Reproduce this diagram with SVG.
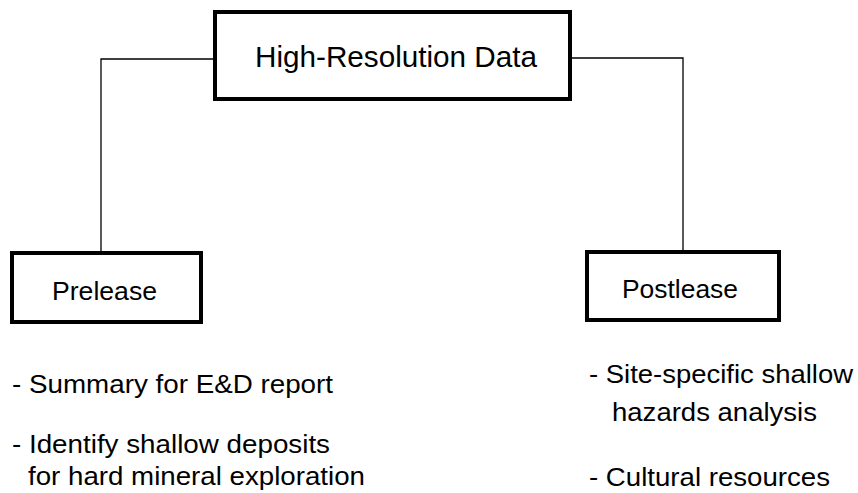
<svg xmlns="http://www.w3.org/2000/svg" width="858" height="493" viewBox="0 0 858 493">
<style>
.box{fill:#fff;stroke:#000;stroke-width:4}
.conn{fill:none;stroke:#000;stroke-width:1.3}
text{font-family:"Liberation Sans",Arial,sans-serif;fill:#000}
.t1{font-size:30px}
.t2{font-size:25px}
.t3{font-size:26px}
</style>
<rect width="858" height="493" fill="#fff"/>
<g id="connectors">
<polyline class="conn" points="213,59 101,59 101,252"/>
<polyline class="conn" points="572,58 683,58 683,251"/>
</g>
<g id="high-resolution-data">
<rect class="box" x="215" y="12" width="355" height="87"/>
<text class="t1" x="255" y="67" textLength="282" lengthAdjust="spacingAndGlyphs">High-Resolution Data</text>
</g>
<g id="prelease">
<rect class="box" x="12" y="253" width="189" height="69"/>
<text class="t2" x="52" y="300" textLength="105" lengthAdjust="spacingAndGlyphs">Prelease</text>
</g>
<g id="postlease">
<rect class="box" x="587" y="252" width="192" height="68"/>
<text class="t2" x="622" y="298" textLength="116" lengthAdjust="spacingAndGlyphs">Postlease</text>
</g>
<g id="prelease-notes">
<text class="t3" x="12" y="393" textLength="321" lengthAdjust="spacingAndGlyphs">- Summary for E&amp;D report</text>
<text class="t3" x="12" y="453" textLength="318" lengthAdjust="spacingAndGlyphs">- Identify shallow deposits</text>
<text class="t3" x="28" y="485" textLength="337" lengthAdjust="spacingAndGlyphs">for hard mineral exploration</text>
</g>
<g id="postlease-notes">
<text class="t3" x="589" y="383" textLength="264" lengthAdjust="spacingAndGlyphs">- Site-specific shallow</text>
<text class="t3" x="612" y="421" textLength="205" lengthAdjust="spacingAndGlyphs">hazards analysis</text>
<text class="t3" x="589" y="486" textLength="241" lengthAdjust="spacingAndGlyphs">- Cultural resources</text>
</g>
</svg>
